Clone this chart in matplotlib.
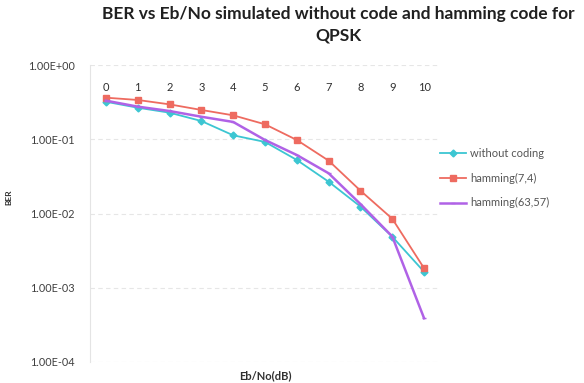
import numpy as np
import matplotlib
matplotlib.use("Agg")
import matplotlib.pyplot as plt
from matplotlib.ticker import FixedLocator, FuncFormatter

plt.rcParams["font.family"] = ["Lato", "DejaVu Sans"]

ebno = [0, 1, 2, 3, 4, 5, 6, 7, 8, 9, 10]
ber_uncoded = [0.32, 0.266, 0.228, 0.176, 0.113, 0.092, 0.0526, 0.0268, 0.0124, 0.00487, 0.00164]
ber_h74 = [0.363, 0.338, 0.295, 0.248, 0.21, 0.159, 0.0977, 0.0515, 0.0203, 0.0085, 0.00183]
ber_h6357 = [0.331, 0.275, 0.24, 0.201, 0.171, 0.0977, 0.0613, 0.0348, 0.0134, 0.0049, 0.000388]

fig = plt.figure(figsize=(5.84, 3.83), dpi=100)
ax = fig.add_axes([90 / 584, 1 - 362 / 383, 350 / 584, (362 - 65) / 383])

ax.plot(ebno, ber_uncoded, color="#3cc6d2", lw=1.3, marker="D", ms=3.5, label="without coding")
ax.plot(ebno, ber_h74, color="#ee6b60", lw=1.3, marker="s", ms=4.5, label="hamming(7,4)")
ax.plot(ebno, ber_h6357, color="#b062e6", lw=1.8, marker="_", ms=3, label="hamming(63,57)")

ax.set_yscale("log")
ax.set_ylim(1e-4, 1)
ax.set_xlim(-0.5, 10.5)

# Excel-style scientific labels on the decades
ax.yaxis.set_major_locator(FixedLocator([1e-4, 1e-3, 1e-2, 1e-1, 1]))
ax.yaxis.set_minor_locator(FixedLocator([]))
ax.yaxis.set_major_formatter(FuncFormatter(lambda v, p: "1.00E%+03d" % round(np.log10(v))))
ax.tick_params(axis="y", length=0, labelsize=7.8, colors="#404040", pad=11)

# category labels sit just under the top of the plot
ax.set_xticks(ebno)
ax.xaxis.set_ticks_position("top")
ax.tick_params(axis="x", length=0, labelsize=8, colors="#303030", pad=-20)

ax.grid(axis="y", color="#e6e6e6", lw=0.8, ls=(0, (4, 3)))
for side in ["top", "right", "bottom"]:
    ax.spines[side].set_visible(False)
ax.spines["left"].set_color("#e4e4e4")

ax.set_xlabel("Eb/No(dB)", fontsize=8, fontweight="bold", color="#303030", labelpad=6)
ax.xaxis.set_label_position("bottom")
ax.set_ylabel("BER", fontsize=6, fontweight="bold", color="#303030")
ax.yaxis.set_label_coords(-0.223, 0.555)

fig.text(338 / 584, 1 - 25 / 383, "BER vs Eb/No simulated without code and hamming code for\nQPSK",
         ha="center", va="center", fontsize=12.5, fontweight="bold", color="#202020", linespacing=1.4)

ax.legend(loc="center left", bbox_to_anchor=(430 / 584, 1 - 178 / 383), bbox_transform=fig.transFigure,
          frameon=False, fontsize=8, labelspacing=1.25, handlelength=2.3, handletextpad=0.4,
          labelcolor="#555555")

fig.savefig("out.png", dpi=100)
